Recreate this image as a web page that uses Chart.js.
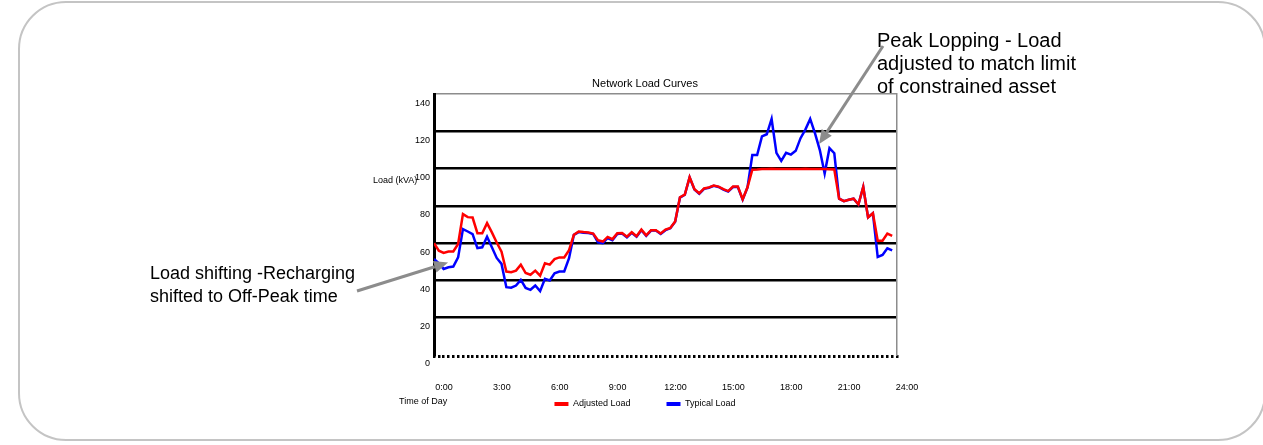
<!DOCTYPE html>
<html>
<head>
<meta charset="utf-8">
<title>Network Load Curves</title>
<script src="https://cdn.jsdelivr.net/npm/chart.js@4.4.0/dist/chart.umd.min.js"></script>
<style>
    body { margin: 0; background: #fff; font-family: Arial, "Liberation Sans", sans-serif; }
    #wrap { position: relative; width: 1263px; height: 445px; overflow: hidden; }
    #frame { position: absolute; left: 18px; top: 1px; width: 1248px; height: 440px; box-sizing: border-box;
             border: 2px solid #c4c4c4; border-radius: 48px; }
    #c { position: absolute; left: 0; top: 0; }
    .note { position: absolute; font-size: 20px; line-height: 23px; color: #000; white-space: nowrap; }
    .lbl { position: absolute; font-size: 9px; color: #000; white-space: nowrap; }
</style>
</head>
<body>
<div id="wrap">
    <div id="frame"></div>
    <canvas id="c" width="1263" height="445"></canvas>
    <div class="lbl" style="left:373px; top:175px;">Load (kVA)</div>
    <div class="lbl" style="left:399px; top:396px;">Time of Day</div>
    <div class="note" style="left:877px; top:29px;">Peak Lopping - Load<br>adjusted to match limit<br>of constrained asset</div>
    <div class="note" style="left:150px; top:262px; font-size:18px;">Load shifting -Recharging<br>shifted to Off-Peak time</div>
</div>

<script>
// ---- dados (15 min) ----
const timeLabels = ['0:00', '3:00', '6:00', '9:00', '12:00', '15:00', '18:00', '21:00', '24:00'];
const seriesNames = ['Adjusted Load', 'Typical Load'];
const stepHours = 0.25;

const adjustedLoad = [
    60, 56, 54.8, 55.5, 55.6, 59.6, 75.6, 74, 73.8, 65.4, 65.4, 70.8,
    65.8, 60.4, 55.5, 44.8, 44.4, 45.3, 48.5, 44, 43.1, 45.3, 42.6, 49.2,
    48.5, 51.5, 52.4, 52.4, 56.3, 64.5, 66.3, 66, 65.8, 65.2, 61.6, 60.9,
    63.4, 62.2, 65.4, 65.5, 63.5, 65.9, 63.8, 67.3, 64.2, 67, 67, 65.2,
    67.3, 68.2, 71.7, 84.7, 86.1, 95.5, 89, 86.8, 89.4, 90, 91, 90.4,
    89, 88, 90.4, 90.4, 83.6, 90, 99.5, 99.6, 99.8, 99.8, 100, 99.9,
    99.8, 99.9, 99.9, 99.8, 99.9, 100, 99.9, 99.8, 99.9, 99.8, 99.7, 99.6,
    83.9, 82.6, 83.3, 83.9, 80.8, 90.2, 73.9, 76.1, 61.3, 61.3, 65.2, 64
];

const typicalLoad = [
    51.6, 49.2, 46.2, 47.1, 47.5, 52.4, 67.6, 66.3, 64.9, 57.4, 57.8, 63.5,
    57.8, 52.1, 48.9, 36.4, 36.1, 37.3, 40.3, 36, 35, 37.3, 34.3, 40.9,
    40, 43.9, 44.8, 44.8, 52, 64.5, 66, 65.6, 65.5, 65, 60.5, 60,
    62.8, 61.6, 65, 65.2, 63.2, 65.6, 63.5, 67, 64, 66.8, 66.8, 65,
    67, 68, 71.5, 84.5, 86, 95.3, 88.8, 86.6, 89.2, 89.8, 90.8, 90.2,
    88.8, 87.8, 90.2, 90.2, 83.4, 90, 107.3, 107.3, 117.3, 118.5, 126.7, 108.5,
    104.2, 108.5, 107.6, 109.6, 116.4, 121, 126.7, 119, 110, 97.4, 111, 108.3,
    83.9, 82.6, 83.3, 83.9, 80.8, 90.2, 73.9, 76.1, 52.6, 53.7, 57.3, 56.2
];

// setas das anotações: ponta em coordenadas do gráfico, cauda junto ao texto
const arrowTips = [
    { hour: 19.96, load: 113.2, tailX: 883, tailY: 46 },
    { hour: 0.73, load: 49.6, tailX: 357, tailY: 291 }
];

const toPoints = arr => arr.map((v, i) => ({ x: i * stepHours, y: v }));

const arrowPlugin = {
    id: 'arrows',
    afterDraw(chart) {
        const { ctx, scales } = chart;
        ctx.save();
        ctx.strokeStyle = '#8c8c8c';
        ctx.fillStyle = '#8c8c8c';
        ctx.lineWidth = 3;
        arrowTips.forEach(a => {
            const tx = scales.x.getPixelForValue(a.hour);
            const ty = scales.y.getPixelForValue(a.load);
            const ang = Math.atan2(ty - a.tailY, tx - a.tailX);
            const headLen = 14, headW = 6;
            const bx = tx - headLen * Math.cos(ang), by = ty - headLen * Math.sin(ang);
            ctx.beginPath();
            ctx.moveTo(a.tailX, a.tailY);
            ctx.lineTo(bx, by);
            ctx.stroke();
            ctx.beginPath();
            ctx.moveTo(tx, ty);
            ctx.lineTo(bx + headW * Math.sin(ang), by - headW * Math.cos(ang));
            ctx.lineTo(bx - headW * Math.sin(ang), by + headW * Math.cos(ang));
            ctx.closePath();
            ctx.fill();
        });
        ctx.restore();
    }
};

const font = { family: 'Arial, "Liberation Sans", sans-serif', size: 9 };

new Chart(document.getElementById('c'), {
    type: 'line',
    data: {
        datasets: [
            { label: seriesNames[0], data: toPoints(adjustedLoad), borderColor: '#ff0000', backgroundColor: '#ff0000',
              borderWidth: 2.5, pointRadius: 0, tension: 0 },
            { label: seriesNames[1], data: toPoints(typicalLoad), borderColor: '#0000ff', backgroundColor: '#0000ff',
              borderWidth: 2.5, pointRadius: 0, tension: 0 }
        ]
    },
    options: {
        responsive: false,
        animation: false,
        layout: { padding: { left: 379, right: 352, top: 0, bottom: 26.5 } },
        scales: {
            x: {
                type: 'linear', min: 0, max: 24,
                // marca a cada 15 min (linha pontilhada), rótulo a cada 3 h
                // labels mirrored so they are not clipped to the (thin) axis box
                ticks: { stepSize: stepHours, callback: v => (v % 3 === 0 ? timeLabels[v / 3] : ''),
                         font, color: '#000', mirror: true, padding: -38.4, labelOffset: 10,
                         maxRotation: 0, autoSkip: false },
                grid: { drawOnChartArea: false, drawTicks: true, tickLength: 3, lineWidth: 2.5, color: '#000' },
                border: { display: false },
                afterFit: s => { s.height = 8.5; }
            },
            y: {
                min: 0, max: 140,
                ticks: { stepSize: 20, font, color: '#000', padding: 4, labelOffset: 9 },
                grid: {
                    drawTicks: false,
                    color: c => c.tick.value === 0 ? 'rgba(0,0,0,0)' : (c.tick.value === 140 ? '#8c8c8c' : '#000'),
                    lineWidth: c => c.tick.value === 140 ? 1.5 : 2.5
                },
                border: { color: '#000', width: 3 },
                afterFit: s => { s.width = 55; }
            },
            y2: {
                position: 'right', min: 0, max: 140,
                ticks: { display: false },
                grid: { display: false },
                border: { color: '#8c8c8c', width: 1.5 },
                afterFit: s => { s.width = 14; }
            }
        },
        plugins: {
            title: {
                display: true, text: 'Network Load Curves', color: '#000',
                font: { family: font.family, size: 11, weight: 'normal' },
                padding: { top: 77, bottom: 4 }
            },
            legend: {
                position: 'bottom',
                labels: {
                    boxWidth: 14, boxHeight: 4, font, color: '#000', padding: 36,
                    generateLabels: chart => Chart.defaults.plugins.legend.labels.generateLabels(chart)
                        .map(item => Object.assign(item, { lineWidth: 0 }))
                }
            },
            tooltip: { enabled: false }
        }
    },
    plugins: [arrowPlugin]
});
</script>
</body>
</html>
